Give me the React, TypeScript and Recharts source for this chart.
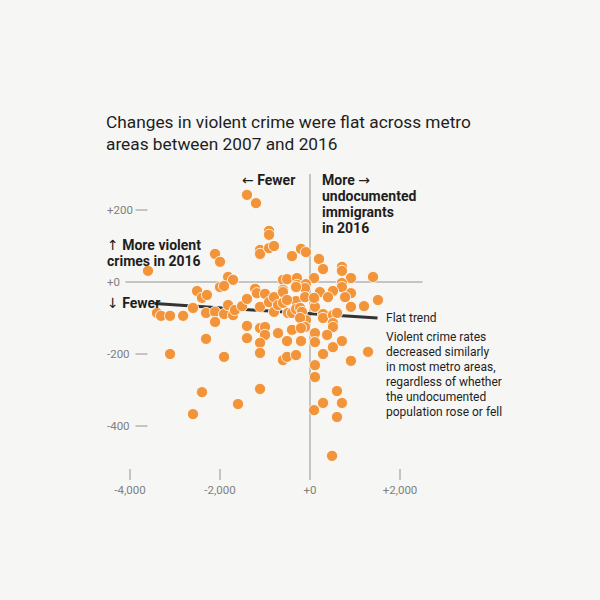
import React from 'react';
import { ScatterChart, Scatter, XAxis, YAxis, ReferenceLine } from 'recharts';

// change in undocumented immigrants, 2007 -> 2016
const IMMIGRANT_CHANGE = [
  -1400, -1200, -910, -910, -1110, -1110, -910, -800, -2110, -2000,
  -400, -200, -90, 200, 290, 710, 710, 910, 1400, -3600,
  90, -1820, -1710, -2000, -1910, -600, -510, -290, -290, -90,
  -110, -600, 710, 710, -2510, -2400, -2290, -2600, -2820, -3400,
  -3310, -3110, -2310, -2110, -2110, -1910, -1820, -1710, -1670, -1510,
  -1400, -1220, -1180, -1110, -1000, -910, -800, -800, -710, -600,
  -600, -490, -400, -310, -310, -220, -180, -110, -90, -220,
  110, 110, 220, 510, 400, 910, 780, 910, 1200, 1510,
  290, 290, 510, 600, 510, 510, -510, -310, -110, -400,
  -2310, -1910, -1400, -1400, -1110, -1000, -1000, -1110, -1110, -710,
  -510, -600, -510, -310, -200, -200, 110, 110, 380, 710,
  290, 510, 1290, 910, 110, 110, 600, 290, 710, 90,
  600, 490, -3110, -2400, -1600, -1110, -2600, 90,
];

// change in violent crime rate, 2007 -> 2016
const CRIME_CHANGE = [
  242, 219, 142, 131, 89, 78, 94, 100, 78, 56,
  72, 92, 83, 64, 36, 42, 31, 11, 14, 31,
  11, 14, 6, -14, -11, 6, 8, 11, -8, -6,
  -17, -22, -3, -14, -25, -44, -36, -72, -94, -86,
  -94, -94, -86, -83, -111, -89, -64, -92, -78, -67,
  -47, -19, -31, -69, -33, -56, -42, -83, -64, -28,
  -58, -86, -86, -53, -75, -72, -83, -42, -106, -100,
  -44, -69, -28, -25, -42, -31, -42, -69, -67, -50,
  -89, -100, -92, -86, -114, -125, -50, -14, -125, -133,
  -158, -208, -122, -156, -128, -125, -147, -169, -197, -142,
  -164, -217, -208, -203, -128, -164, -142, -167, -147, -164,
  -200, -181, -194, -219, -231, -264, -303, -336, -336, -356,
  -375, -483, -200, -306, -339, -297, -367, -44,
];

const X_TICKS = [-4000, -2000, 0, 2000];
const X_TICK_LABELS = ['-4,000', '-2,000', '+0', '+2,000'];
const Y_TICKS = [200, 0, -200, -400];
const Y_TICK_LABELS = ['+200', '+0', '-200', '-400'];

const TREND_X = [-3450, 1500];
const TREND_Y = [-60, -100];

const NOTE_LINES = [
  'Violent crime rates',
  'decreased similarly',
  'in most metro areas,',
  'regardless of whether',
  'the undocumented',
  'population rose or fell',
];

const points = IMMIGRANT_CHANGE.map((x, i) => ({ x, y: CRIME_CHANGE[i] }));

const FONT = 'Roboto, "Noto Sans", sans-serif';
const ARROW_FONT = '"DejaVu Sans", sans-serif';
const DOT = '#f1943a';
const GRID = '#b3b3b3';
const TICK_TEXT = '#808080';

function XTick(props: any) {
  const { x, y, payload } = props;
  const idx = X_TICKS.indexOf(payload.value);
  return (
    <g>
      {payload.value !== 0 && <line x1={x} x2={x} y1={y - 11} y2={y} stroke={GRID} strokeWidth={1.5} />}
      <text x={x} y={y + 14} textAnchor="middle" fontSize={11.5} fill={TICK_TEXT} fontFamily={FONT}>
        {X_TICK_LABELS[idx]}
      </text>
    </g>
  );
}

function YTick(props: any) {
  const { x, y, payload } = props;
  const idx = Y_TICKS.indexOf(payload.value);
  return (
    <g>
      <text x={x - 18.5} y={y + 4} textAnchor="start" fontSize={11.5} fill={TICK_TEXT} fontFamily={FONT}>
        {Y_TICK_LABELS[idx]}
      </text>
      {payload.value !== 0 && <line x1={x + 10} x2={x + 22} y1={y} y2={y} stroke={GRID} strokeWidth={1.5} />}
    </g>
  );
}

const Dot = (props: any) => (
  <circle cx={props.cx} cy={props.cy} r={5.6} fill={DOT} stroke="#fff" strokeWidth={0.8} />
);

const Arrow = ({ ch }: { ch: string }) => (
  <tspan fontFamily={ARROW_FONT} fontWeight={400}>{ch}</tspan>
);

export default function App() {
  const bold = { fontSize: 14, fontWeight: 700, fill: '#1e1e1e', fontFamily: FONT } as const;
  const plain = { fontSize: 12, fill: '#1e1e1e', fontFamily: FONT } as const;
  return (
    <div style={{ position: 'absolute', left: 0, top: 0, width: 600, height: 600, background: '#f6f6f4' }}>
      <ScatterChart width={600} height={600} margin={{ top: 174, right: 177.5, bottom: 90, left: 65.5 }}>
        <XAxis
          type="number"
          dataKey="x"
          domain={[-4100, 2500]}
          ticks={X_TICKS}
          interval={0}
          height={30}
          axisLine={false}
          tickLine={false}
          tickSize={0}
          tickMargin={0}
          tick={<XTick />}
          allowDataOverflow
        />
        <YAxis
          type="number"
          dataKey="y"
          domain={[-550, 300]}
          ticks={Y_TICKS}
          interval={0}
          width={60}
          axisLine={false}
          tickLine={false}
          tickSize={0}
          tickMargin={0}
          tick={<YTick />}
          allowDataOverflow
        />
        <ReferenceLine x={0} stroke={GRID} strokeWidth={1.5} />
        <ReferenceLine y={0} stroke={GRID} strokeWidth={1.5} />
        <ReferenceLine
          segment={[
            { x: TREND_X[0], y: TREND_Y[0] },
            { x: TREND_X[1], y: TREND_Y[1] },
          ]}
          stroke="#333"
          strokeWidth={3}
        />
        <Scatter data={points} shape={<Dot />} isAnimationActive={false} />
      </ScatterChart>
      <svg width={600} height={600} style={{ position: 'absolute', left: 0, top: 0, pointerEvents: 'none' }}>
        <text x={106} y={128} fontSize={17.3} fill="#1e1e1e" fontFamily={FONT}>
          Changes in violent crime were flat across metro
        </text>
        <text x={106} y={150} fontSize={17.3} fill="#1e1e1e" fontFamily={FONT}>
          areas between 2007 and 2016
        </text>
        <text x={242} y={185} {...bold}><Arrow ch="←" /> Fewer</text>
        <text x={322} y={185} {...bold}>More <Arrow ch="→" /></text>
        <text x={322} y={201} {...bold}>undocumented</text>
        <text x={322} y={217} {...bold}>immigrants</text>
        <text x={322} y={233} {...bold}>in 2016</text>
        <text x={107} y={250} {...bold}><Arrow ch="↑" /> More violent</text>
        <text x={107} y={266} {...bold}>crimes in 2016</text>
        <text x={107} y={308} {...bold}><Arrow ch="↓" /> Fewer</text>
        <text x={386} y={322} {...plain}>Flat trend</text>
        {NOTE_LINES.map((line, i) => (
          <text key={line} x={386} y={341 + i * 15} {...plain}>
            {line}
          </text>
        ))}
      </svg>
    </div>
  );
}
